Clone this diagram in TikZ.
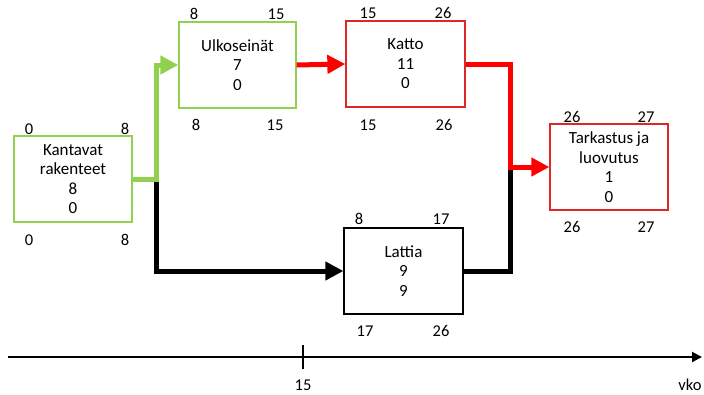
\documentclass[tikz,border=0pt]{standalone}
\usepackage{fontspec}
\setmainfont{Carlito}
\usetikzlibrary{arrows.meta}
\definecolor{lgreen}{RGB}{146,208,80}
\definecolor{boxred}{RGB}{220,40,40}
\definecolor{arrred}{RGB}{255,0,0}
\tikzset{
  task/.style={draw, line width=1.3pt, minimum width=118pt, minimum height=86pt, align=center, inner sep=0pt, font=\fontsize{17}{19.5}\selectfont},
  greenbox/.style={task, draw=lgreen},
  redbox/.style={task, draw=boxred},
  blackbox/.style={task, draw=black},
  lbl/.style={font=\fontsize{16.5}{19}\selectfont, inner sep=0pt},
  conn/.style={line width=5pt},
  tip/.style={-{Triangle[length=18pt,width=18pt]}}
}
\begin{document}
\begin{tikzpicture}[x=1pt,y=-1pt]
\useasboundingbox (0,0) rectangle (704,394);
% boxes
\node[greenbox] (kant) at (73,179) {Kantavat\\rakenteet\\8\\0};
\node[greenbox, minimum width=117pt] (ulko) at (237.5,65) {Ulkoseinät\\7\\0};
\node[redbox, minimum width=119pt] (katto) at (405.5,64) {Katto\\11\\0};
\node[redbox] (tark) at (609,167) {Tarkastus ja\\luovutus\\1\\0};
\node[blackbox, minimum width=119pt] (latt) at (403.5,271) {Lattia\\9\\9};
% corner labels
\node[lbl] (k1) at (29,129) {0};
\node[lbl] (k2) at (125,129) {8};
\node[lbl] (k3) at (29,240) {0};
\node[lbl] (k4) at (125,240) {8};
\node[lbl] (u1) at (194,14) {8};
\node[lbl] (u2) at (276,14) {15};
\node[lbl] (u3) at (196,125) {8};
\node[lbl] (u4) at (275,125) {15};
\node[lbl] (c1) at (368,13) {15};
\node[lbl] (c2) at (443,13) {26};
\node[lbl] (c3) at (368,125) {15};
\node[lbl] (c4) at (444,125) {26};
\node[lbl] (t1) at (572,117) {26};
\node[lbl] (t2) at (646,117) {27};
\node[lbl] (t3) at (572,227) {26};
\node[lbl] (t4) at (646,227) {27};
\node[lbl] (l1) at (359,219) {8};
\node[lbl] (l2) at (441,219) {17};
\node[lbl] (l3) at (365,331) {17};
\node[lbl] (l4) at (441,331) {26};
% junctions
\coordinate (j1) at (156,179);
\coordinate (j2) at (510,167);
% connectors
\draw[conn, black, tip] (j1) |- (latt.west);
\draw[conn, black] (latt.east) -| ([yshift=2pt]j2);
\draw[conn, lgreen, tip] (kant.east) -- (j1) |- (ulko.west);
\draw[conn, arrred, tip] (ulko.east) -- (katto.west);
\draw[conn, arrred, tip] (katto.east) -| (j2) -- (tark.west);
% axis
\coordinate (a0) at (8,357);
\coordinate (a1) at (702,357);
\draw[line width=2pt, -{Triangle[length=10pt,width=10pt]}] (a0) -- (a1);
\coordinate (tk1) at (303,345);
\coordinate (tk2) at (303,369);
\draw[line width=2pt] (tk1) -- (tk2);
\node[lbl] (ax15) at (303,385) {15};
\node[lbl] (vko) at (690,385) {vko};
\end{tikzpicture}
\end{document}
